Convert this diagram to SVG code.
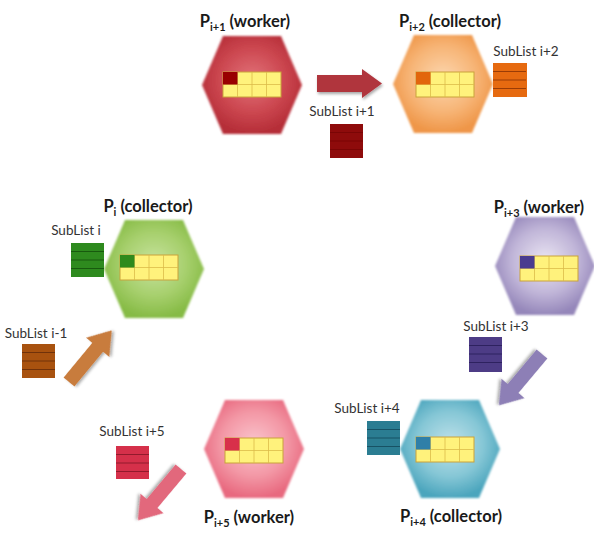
<svg xmlns="http://www.w3.org/2000/svg" xmlns:xlink="http://www.w3.org/1999/xlink" width="594" height="533" viewBox="0 0 594 533">
  <style>
    .label { font-family: Lato, "Liberation Sans", sans-serif; font-weight: bold; font-size: 16.5px; fill: #1a1a1a; text-anchor: middle; }
    .sub { font-size: 11px; }
    .list { font-family: Lato, "Liberation Sans", sans-serif; font-size: 13.5px; fill: #333333; text-anchor: middle; }
    .hex { filter: url(#soft); }
    .arrow { filter: url(#shadow); }
  </style>
  <defs>
    <filter id="soft" x="-10%" y="-10%" width="120%" height="120%">
      <feGaussianBlur stdDeviation="1"/>
    </filter>
    <filter id="shadow" x="-20%" y="-20%" width="140%" height="140%">
      <feGaussianBlur in="SourceAlpha" stdDeviation="1.5" result="b"/>
      <feOffset dx="1" dy="1.5" result="o"/>
      <feComponentTransfer in="o" result="s"><feFuncA type="linear" slope="0.35"/></feComponentTransfer>
      <feMerge><feMergeNode in="s"/><feMergeNode in="SourceGraphic"/></feMerge>
    </filter>
    <radialGradient id="gRed" cx="0.5" cy="0.45" r="0.55"><stop offset="0" stop-color="#e2737a"/><stop offset="0.6" stop-color="#cc4750"/><stop offset="1" stop-color="#b52d37"/></radialGradient>
    <radialGradient id="gOrange" cx="0.5" cy="0.45" r="0.55"><stop offset="0" stop-color="#fcd7b0"/><stop offset="0.6" stop-color="#f7b577"/><stop offset="1" stop-color="#ef9648"/></radialGradient>
    <radialGradient id="gGreen" cx="0.5" cy="0.45" r="0.55"><stop offset="0" stop-color="#c8e4a0"/><stop offset="0.6" stop-color="#a6cf6c"/><stop offset="1" stop-color="#86bb45"/></radialGradient>
    <radialGradient id="gPurple" cx="0.5" cy="0.45" r="0.55"><stop offset="0" stop-color="#ebe6f3"/><stop offset="0.6" stop-color="#c0b5d8"/><stop offset="1" stop-color="#9587ba"/></radialGradient>
    <radialGradient id="gTeal" cx="0.5" cy="0.45" r="0.55"><stop offset="0" stop-color="#c0e2eb"/><stop offset="0.6" stop-color="#86c7d6"/><stop offset="1" stop-color="#4ba5bd"/></radialGradient>
    <radialGradient id="gPink" cx="0.5" cy="0.45" r="0.55"><stop offset="0" stop-color="#fac6ce"/><stop offset="0.6" stop-color="#f397a5"/><stop offset="1" stop-color="#e8697f"/></radialGradient>
    <path id="hex" d="M-50,0 L-29,-49 L29,-49 L50,0 L29,49 L-29,49 Z"/>
    <!-- 4 x 2 block of list slots; the first slot is overdrawn per node -->
    <g id="grid">
      <rect x="0" y="0" width="58" height="25" fill="#fff27c" stroke="#c9a23a" stroke-width="1"/>
      <path d="M14.5,0V25M29,0V25M43.5,0V25M0,12.5H58" stroke="#dcbb4a" stroke-width="0.8" fill="none"/>
    </g>
    <!-- horizontal rules of a sublist block -->
    <path id="rules" d="M0,8.5H33M0,17H33M0,25.5H33" fill="none" stroke-width="1.2"/>
    <!-- diagonal block arrow pointing along +x from its tail -->
    <path id="diag" d="M0,-7 L45,-7 L45,-15 L67,0 L45,15 L45,7 L0,7 Z"/>
  </defs>

  <rect width="594" height="533" fill="#ffffff"/>

  <g id="connectors">
    <path class="arrow" d="M317,75 L362,75 L362,69 L382,83.5 L362,98 L362,92 L317,92 Z" fill="#b0343c"/>
    <use class="arrow" xlink:href="#diag" href="#diag" transform="translate(69,382) rotate(-50.4)" fill="#c87b3e"/>
    <use class="arrow" xlink:href="#diag" href="#diag" transform="translate(542,354) rotate(130)" fill="#8d7fb6"/>
    <use class="arrow" xlink:href="#diag" href="#diag" transform="translate(181,469) rotate(130)" fill="#e2677b"/>
  </g>

  <g id="node-p-i1">
    <use class="hex" href="#hex" xlink:href="#hex" transform="translate(252,85)" fill="url(#gRed)"/>
    <use href="#grid" xlink:href="#grid" transform="translate(223,72)"/>
    <rect x="223" y="72" width="14.5" height="12.5" fill="#990000"/>
    <text class="label" x="245" y="27">P<tspan class="sub" dy="4">i+1</tspan><tspan dy="-4"> (worker)</tspan></text>
  </g>

  <g id="node-p-i2">
    <use class="hex" href="#hex" xlink:href="#hex" transform="translate(443,84)" fill="url(#gOrange)"/>
    <use href="#grid" xlink:href="#grid" transform="translate(416,72)"/>
    <rect x="416" y="72" width="14.5" height="12.5" fill="#e2650c"/>
    <text class="label" x="450" y="27">P<tspan class="sub" dy="4">i+2</tspan><tspan dy="-4"> (collector)</tspan></text>
  </g>

  <g id="node-p-i">
    <use class="hex" href="#hex" xlink:href="#hex" transform="translate(154,269)" fill="url(#gGreen)"/>
    <use href="#grid" xlink:href="#grid" transform="translate(120,255)"/>
    <rect x="120" y="255" width="14.5" height="12.5" fill="#2f8a1c"/>
    <text class="label" x="148" y="212">P<tspan class="sub" dy="4">i</tspan><tspan dy="-4"> (collector)</tspan></text>
  </g>

  <g id="node-p-i3">
    <use class="hex" href="#hex" xlink:href="#hex" transform="translate(545,266)" fill="url(#gPurple)"/>
    <use href="#grid" xlink:href="#grid" transform="translate(520,256)"/>
    <rect x="520" y="256" width="14.5" height="12.5" fill="#4a3b8f"/>
    <text class="label" x="539" y="213">P<tspan class="sub" dy="4">i+3</tspan><tspan dy="-4"> (worker)</tspan></text>
  </g>

  <g id="node-p-i4">
    <use class="hex" href="#hex" xlink:href="#hex" transform="translate(450,449)" fill="url(#gTeal)"/>
    <use href="#grid" xlink:href="#grid" transform="translate(416,437)"/>
    <rect x="416" y="437" width="14.5" height="12.5" fill="#2f7fa8"/>
    <text class="label" x="451" y="522">P<tspan class="sub" dy="4">i+4</tspan><tspan dy="-4"> (collector)</tspan></text>
  </g>

  <g id="node-p-i5">
    <use class="hex" href="#hex" xlink:href="#hex" transform="translate(254,449)" fill="url(#gPink)"/>
    <use href="#grid" xlink:href="#grid" transform="translate(225,438)"/>
    <rect x="225" y="438" width="14.5" height="12.5" fill="#d8304a"/>
    <text class="label" x="249" y="523">P<tspan class="sub" dy="4">i+5</tspan><tspan dy="-4"> (worker)</tspan></text>
  </g>

  <!-- sublist blocks -->
  <g id="sublist-i1">
    <rect x="330" y="124" width="33" height="34" fill="#8e0b0b"/>
    <use href="#rules" xlink:href="#rules" transform="translate(330,124)" stroke="#7a0505"/>
    <text class="list" x="342" y="116">SubList i+1</text>
  </g>
  <g id="sublist-i2">
    <rect x="493" y="63" width="34" height="34" fill="#e66a10"/>
    <use href="#rules" xlink:href="#rules" transform="translate(493,63)" stroke="#9a3c06"/>
    <text class="list" x="526" y="56">SubList i+2</text>
  </g>
  <g id="sublist-i">
    <rect x="71" y="243" width="33" height="34" fill="#2e8a1e"/>
    <use href="#rules" xlink:href="#rules" transform="translate(71,243)" stroke="#185a0e"/>
    <text class="list" x="76" y="235">SubList i</text>
  </g>
  <g id="sublist-i-1">
    <rect x="22" y="344" width="33" height="34" fill="#a8520f"/>
    <use href="#rules" xlink:href="#rules" transform="translate(22,344)" stroke="#70320a"/>
    <text class="list" x="36" y="338">SubList i-1</text>
  </g>
  <g id="sublist-i3">
    <rect x="469" y="337" width="33" height="35" fill="#4d3c86"/>
    <use href="#rules" xlink:href="#rules" transform="translate(469,337)" stroke="#2e2260"/>
    <text class="list" x="496" y="331">SubList i+3</text>
  </g>
  <g id="sublist-i4">
    <rect x="367" y="421" width="33" height="34" fill="#2b7d92"/>
    <use href="#rules" xlink:href="#rules" transform="translate(367,421)" stroke="#175264"/>
    <text class="list" x="367" y="413">SubList i+4</text>
  </g>
  <g id="sublist-i5">
    <rect x="116" y="446" width="33" height="33" fill="#d5304a"/>
    <use href="#rules" xlink:href="#rules" transform="translate(116,446)" stroke="#921a2c"/>
    <text class="list" x="132" y="436">SubList i+5</text>
  </g>
</svg>
